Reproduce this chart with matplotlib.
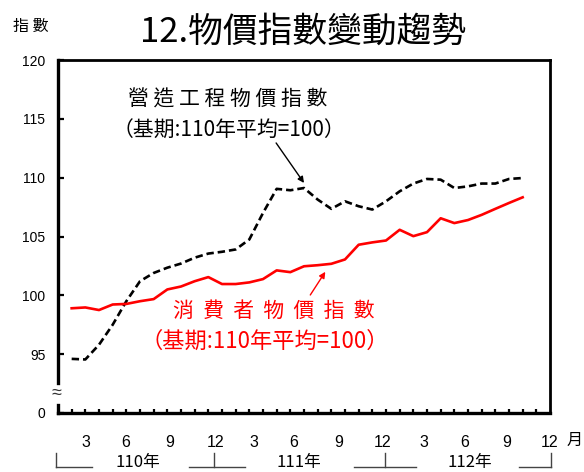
import matplotlib
matplotlib.use("Agg")
import matplotlib.pyplot as plt
import matplotlib.transforms as mtransforms

# ---------------- data ----------------
months = list(range(1, 35))  # 110年1月 ... 112年10月
construction_index = [94.6, 94.55, 95.8, 97.5, 99.5, 101.2, 101.9, 102.35, 102.7, 103.2, 103.55, 103.7,
                      103.9, 104.75, 107.0, 109.05, 108.93, 109.12, 108.14, 107.35, 107.99, 107.57, 107.29, 107.99,
                      108.84, 109.5, 109.89, 109.83, 109.12, 109.26, 109.5, 109.5, 109.89, 109.97]
cpi = [98.9, 98.97, 98.75, 99.22, 99.27, 99.5, 99.68, 100.5, 100.75, 101.2, 101.55, 100.96,
       100.96, 101.1, 101.38, 102.12, 101.97, 102.47, 102.56, 102.68, 103.05, 104.3, 104.5, 104.66,
       105.57, 105.03, 105.37, 106.55, 106.14, 106.4, 106.84, 107.35, 107.85, 108.33]
y_tick_values = [90, 95, 100, 105, 110, 115, 120]
y_tick_labels = ["0", "95", "100", "105", "110", "115", "120"]
x_tick_labels = ["3", "6", "9", "12", "3", "6", "9", "12", "3", "6", "9", "12"]
year_labels = ["110年", "111年", "112年"]

title = "12.物價指數變動趨勢"
ylabel = "指 數"
label_construction = ["營 造 工 程 物 價 指 數", "（基期:110年平均=100）"]
label_cpi = ["消  費  者  物  價  指  數", "（基期:110年平均=100）"]

CJK = ["Noto Sans CJK TC", "DejaVu Sans"]
LAT = ["Liberation Sans", "DejaVu Sans"]

# ---------------- figure ----------------
fig = plt.figure(figsize=(5.84, 4.72), dpi=100)
ax = fig.add_axes([58 / 584, 1 - 413 / 472, (550 - 58) / 584, (413 - 60) / 472])
ax.set_xlim(0, 36)
ax.set_ylim(90, 120)

ax.plot(months, construction_index, color="black", lw=1.9, linestyle=(0, (2.8, 1.5)),
        solid_capstyle="butt", zorder=3)
ax.plot(months, cpi, color="#ff0000", lw=1.9, zorder=3)

# spines
for s in ["top", "right", "bottom"]:
    ax.spines[s].set_linewidth(2.0)
ax.spines["bottom"].set_linewidth(2.4)
ax.spines["left"].set_visible(False)
# left axis with break
trans_left = mtransforms.blended_transform_factory(ax.transAxes, ax.transData)
ax.plot([0, 0], [90, 90.68], color="black", lw=2.4, transform=trans_left, clip_on=False,
        solid_capstyle="projecting", zorder=4)
ax.plot([0, 0], [92.55, 120], color="black", lw=2.4, transform=trans_left, clip_on=False,
        solid_capstyle="projecting", zorder=4)
ax.text(-0.004, 91.65, "≈", transform=trans_left, ha="center", va="center", fontsize=13,
        family=LAT, color="#333333")

# y ticks
ax.set_yticks(y_tick_values)
ax.set_yticklabels(y_tick_labels, family=LAT, fontsize=10)
ax.tick_params(axis="y", direction="in", length=4, width=1.6, pad=9)

# x ticks: month minor marks, text labels
x_label_pos = [2.04, 4.96, 8.16, 11.52, 14.36, 17.27, 20.55, 23.75, 26.75, 29.74, 32.8, 36.0]
ax.set_xticks(x_label_pos)
ax.set_xticklabels(x_tick_labels, family=LAT, fontsize=11.5)
ax.tick_params(axis="x", which="major", length=0, pad=16)
ax.set_xticks(list(range(1, 36)), minor=True)
ax.tick_params(axis="x", which="minor", direction="in", length=3, width=1.6)
ax.tick_params(axis="y", which="minor", length=0)

trans_x = mtransforms.blended_transform_factory(ax.transData, ax.transAxes)
ax.text(37.8, -0.077, "月", transform=trans_x, ha="center", va="center", fontsize=11.5,
        family=CJK)

# year brackets
yb_top, yb_bot = -0.113, -0.152
lc = "#444444"
lw_b = 1.0
segs = [
    ([-0.15, -0.15], [yb_top, yb_bot]), ([-0.15, 2.48], [yb_bot, yb_bot]),
    ([9.55, 13.7], [yb_bot, yb_bot]), ([11.44, 11.44], [yb_top, yb_bot]),
    ([21.65, 26.17], [yb_bot, yb_bot]), ([23.9, 23.9], [yb_top, yb_bot]),
    ([33.75, 36.08], [yb_bot, yb_bot]), ([36.08, 36.08], [yb_top, yb_bot]),
]
for xs, ys in segs:
    ax.plot(xs, ys, color=lc, lw=lw_b, transform=trans_x, clip_on=False)
for xp, lab in zip([5.83, 17.64, 30.1], year_labels):
    ax.text(xp, -0.139, lab, transform=trans_x, ha="center", va="center", fontsize=12,
            family=CJK)

# title and y label
fig.text(0.519, 0.932, title, ha="center", va="center", fontsize=25, family=CJK)
fig.text(0.053, 0.943, ylabel, ha="center", va="center", fontsize=11.5, family=CJK)

# annotations
ax.text(12.39, 116.6, label_construction[0], ha="center", va="center", fontsize=15, family=CJK)
ax.text(12.5, 113.97, label_construction[1], ha="center", va="center", fontsize=15, family=CJK)
ax.annotate("", xy=(18.0, 109.55), xytext=(15.96, 112.95),
            arrowprops=dict(arrowstyle="-|>", color="black", lw=1.0, mutation_scale=9,
                            shrinkA=0, shrinkB=0))

ax.text(15.8, 98.67, label_cpi[0], ha="center", va="center", fontsize=15, family=CJK,
        color="#ff0000")
ax.text(15.1, 96.12, label_cpi[1], ha="center", va="center", fontsize=16, family=CJK,
        color="#ff0000")
ax.annotate("", xy=(19.56, 102.0), xytext=(18.46, 100.03),
            arrowprops=dict(arrowstyle="-|>", color="#ff0000", lw=1.0, mutation_scale=9,
                            shrinkA=0, shrinkB=0))

fig.savefig("out.png", dpi=100)
